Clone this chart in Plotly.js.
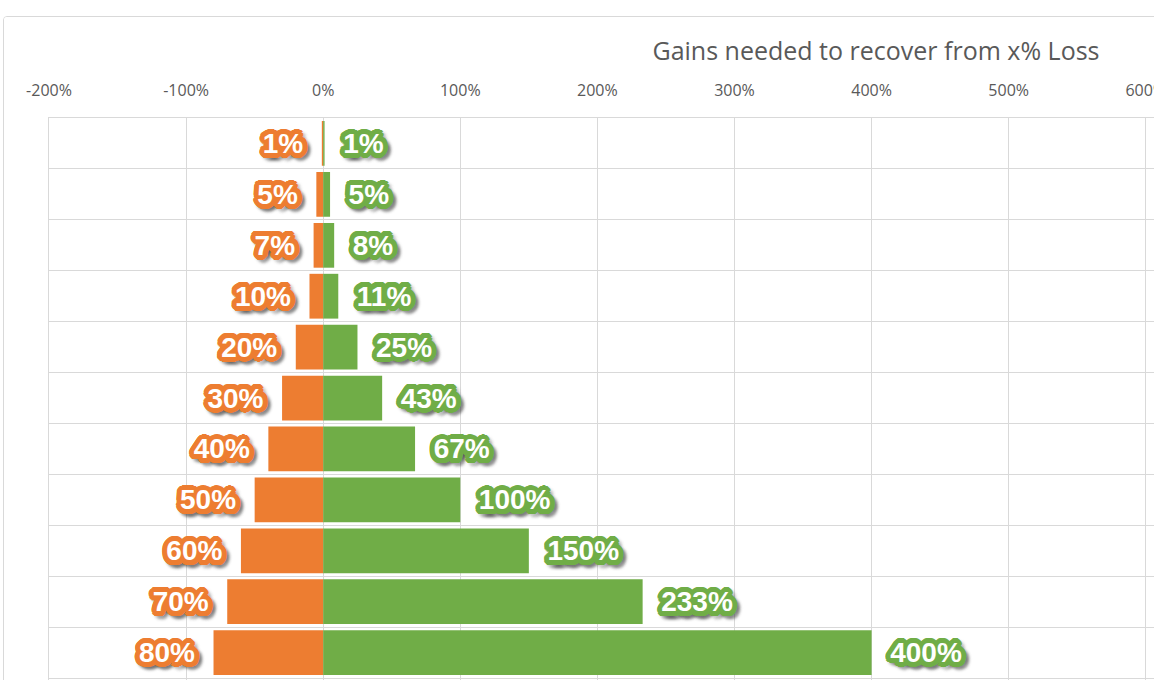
<!DOCTYPE html>
<html>
<head>
<meta charset="utf-8">
<script src="https://cdn.plot.ly/plotly-3.0.1.min.js"></script>
<style>
  html, body { margin: 0; padding: 0; background: #ffffff; overflow: hidden; width: 1154px; height: 680px; }
  #frame { position: absolute; left: 3px; top: 16px; width: 1436px; height: 742px; border: 1px solid #d9d9d9; border-radius: 4px; overflow: hidden; background: #fff; }
  #chart { position: absolute; left: 0; top: 0; }
</style>
</head>
<body>
<div id="frame"><div id="chart"></div></div>
<script>
// Data
const categories = ['1%', '5%', '7%', '10%', '20%', '30%', '40%', '50%', '60%', '70%', '80%', '90%'];
const lossPct = [1, 5, 7, 10, 20, 30, 40, 50, 60, 70, 80, 90];
const gainPct = [1, 5, 8, 11, 25, 43, 67, 100, 150, 233, 400, 900];
const xTickVals = [-200, -100, 0, 100, 200, 300, 400, 500, 600, 700, 800];
const xTickText = ['-200%', '-100%', '0%', '100%', '200%', '300%', '400%', '500%', '600%', '700%', '800%'];

const ORANGE = '#ED7D31';
const GREEN = '#70AD47';

function outlineShadow(color) {
  const parts = [];
  const n = 24;
  [5, 3].forEach(r => {
    for (let i = 0; i < n; i++) {
      const a = 2 * Math.PI * i / n;
      parts.push((r * Math.cos(a)).toFixed(2) + 'px ' + (r * Math.sin(a)).toFixed(2) + 'px 0 ' + color);
    }
  });
  for (let i = 0; i < n; i += 2) {
    const a = 2 * Math.PI * i / n;
    parts.push((5 * Math.cos(a) + 3).toFixed(2) + 'px ' + (5 * Math.sin(a) + 3).toFixed(2) + 'px 3px rgba(60,60,60,0.35)');
  }
  return parts.join(', ');
}

const NB = '\u00A0\u00A0';

const labelFont = (color) => ({ family: 'Liberation Sans, Arial, sans-serif', size: 28, color: '#ffffff', weight: 'bold', shadow: outlineShadow(color) });

const lossTrace = {
  type: 'bar',
  orientation: 'h',
  y: categories,
  x: lossPct.map(v => -v),
  text: lossPct.map(v => v + '%' + NB),
  textposition: 'outside',
  textangle: 0,
  constraintext: 'none',
  cliponaxis: true,
  textfont: labelFont(ORANGE),
  marker: { color: ORANGE, line: { width: 0 } },
  hoverinfo: 'skip',
  showlegend: false
};

const gainTrace = {
  type: 'bar',
  orientation: 'h',
  y: categories,
  x: gainPct,
  text: gainPct.map(v => NB + v + '%'),
  textposition: 'outside',
  textangle: 0,
  constraintext: 'none',
  cliponaxis: true,
  textfont: labelFont(GREEN),
  marker: { color: GREEN, line: { width: 0 } },
  hoverinfo: 'skip',
  showlegend: false
};

const layout = {
  width: 1436,
  height: 742,
  margin: { l: 45, r: 20, t: 101, b: 30, pad: 0 },
  paper_bgcolor: '#ffffff',
  plot_bgcolor: '#ffffff',
  barmode: 'relative',
  bargap: 0.12,
  title: {
    text: 'Gains needed to recover from x% Loss',
    font: { family: 'Open Sans, sans-serif', size: 25, color: '#595959' },
    xref: 'container', x: 872 / 1436, xanchor: 'center',
    yref: 'container', y: 1 - 34 / 742, yanchor: 'middle'
  },
  xaxis: {
    side: 'top',
    range: [-200, 800],
    tickvals: xTickVals,
    ticktext: xTickText,
    showgrid: true,
    gridcolor: '#d9d9d9',
    gridwidth: 1,
    zeroline: false,
    showline: true,
    linecolor: '#d9d9d9',
    linewidth: 1,
    ticks: '',
    ticklabelstandoff: 15,
    tickfont: { family: 'Open Sans, sans-serif', size: 16, color: '#595959' },
    fixedrange: true
  },
  yaxis: {
    type: 'category',
    categoryorder: 'array',
    categoryarray: categories,
    autorange: 'reversed',
    tickson: 'boundaries',
    showgrid: true,
    gridcolor: '#d9d9d9',
    gridwidth: 1,
    showticklabels: false,
    ticks: '',
    zeroline: false,
    showline: true,
    linecolor: '#d9d9d9',
    linewidth: 1,
    fixedrange: true
  }
};

Plotly.newPlot('chart', [lossTrace, gainTrace], layout, { displayModeBar: false, staticPlot: true });
</script>
</body>
</html>
